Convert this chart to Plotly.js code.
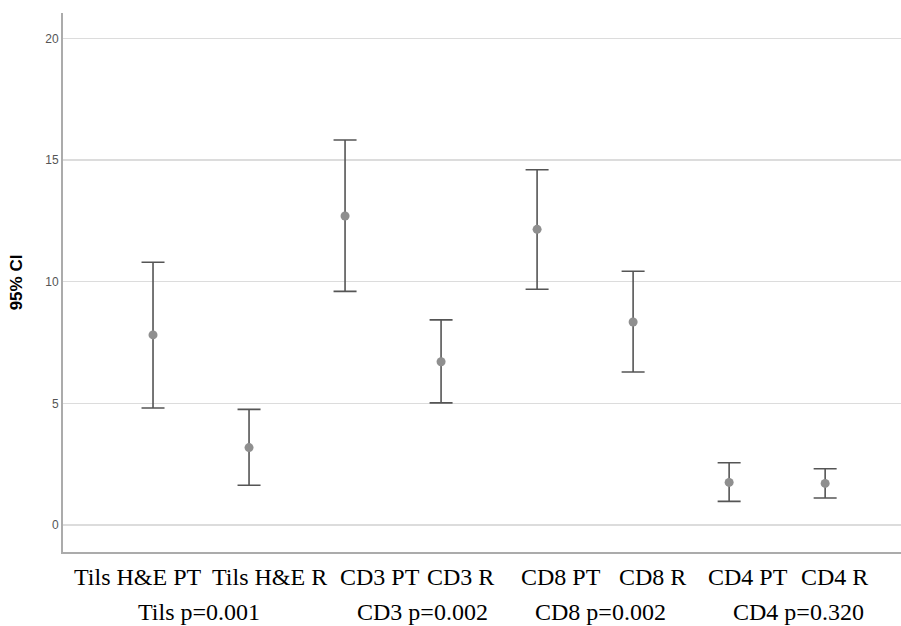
<!DOCTYPE html>
<html>
<head>
<meta charset="utf-8">
<script src="https://cdn.plot.ly/plotly-3.0.1.min.js"></script>
<style>html,body{margin:0;padding:0;background:#fff;}#chart{width:901px;height:626px;}</style>
</head>
<body>
<div id="chart"></div>
<script>
var categories = ["Tils H&E PT", "Tils H&E R", "CD3 PT", "CD3 R", "CD8 PT", "CD8 R", "CD4 PT", "CD4 R"];
var means  = [7.81, 3.18, 12.70, 6.71, 12.15, 8.34, 1.75, 1.71];
var lower  = [4.81, 1.63, 9.60, 5.02, 9.69, 6.29, 0.97, 1.11];
var upper  = [10.80, 4.75, 15.82, 8.43, 14.60, 10.43, 2.56, 2.31];
var groupLabels = ["Tils p=0.001", "CD3 p=0.002", "CD8 p=0.002", "CD4 p=0.320"];
var yTicks = [0, 5, 10, 15, 20];

// label centre positions in pixels (layout only)
var catLabelPx = [138, 269, 380, 460, 561, 652, 748, 834];
var groupLabelPx = [199, 422, 600, 798];
var row1Py = 577, row2Py = 612;

var plotLeft = 63, plotWidth = 838, plotBottom = 552, plotHeight = 539;
function toPaperX(px) { return (px - plotLeft) / plotWidth; }
function toPaperY(py) { return (plotBottom - py) / plotHeight; }

var errPlus = upper.map(function (u, i) { return u - means[i]; });
var errMinus = lower.map(function (l, i) { return means[i] - l; });

var trace = {
  type: 'scatter',
  mode: 'markers',
  x: categories,
  y: means,
  marker: { color: '#8f8f8f', size: 9 },
  error_y: {
    type: 'data', symmetric: false,
    array: errPlus, arrayminus: errMinus,
    color: '#555555', thickness: 1.6, width: 11.5
  },
  hoverinfo: 'none'
};

var serif = { family: 'Liberation Serif, Times New Roman, serif', size: 24, color: '#000' };
var annotations = [];
categories.forEach(function (c, i) {
  annotations.push({
    text: c, xref: 'paper', yref: 'paper',
    x: toPaperX(catLabelPx[i]), y: toPaperY(row1Py),
    xanchor: 'center', yanchor: 'middle', showarrow: false, font: serif
  });
});
groupLabels.forEach(function (g, i) {
  annotations.push({
    text: g, xref: 'paper', yref: 'paper',
    x: toPaperX(groupLabelPx[i]), y: toPaperY(row2Py),
    xanchor: 'center', yanchor: 'middle', showarrow: false, font: serif
  });
});

var layout = {
  width: 901, height: 626,
  margin: { l: 63, r: 0, t: 13, b: 74, pad: 0 },
  paper_bgcolor: '#ffffff', plot_bgcolor: '#ffffff',
  showlegend: false,
  xaxis: {
    type: 'category',
    range: [-0.9375, 7.79],
    showticklabels: false, ticks: '',
    showgrid: false, zeroline: false,
    showline: true, linecolor: '#ababab', linewidth: 2
  },
  yaxis: {
    range: [-1.11, 21.04],
    tickvals: yTicks, ticktext: yTicks.map(String),
    ticks: '', ticklen: 0,
    tickfont: { family: 'Liberation Sans, Arial, sans-serif', size: 12, color: '#555555' },
    showgrid: true, gridcolor: '#dcdcdc', gridwidth: 1.5,
    zeroline: false,
    showline: true, linecolor: '#ababab', linewidth: 2,
    title: { text: '<b>95% CI</b>', standoff: 18,
      font: { family: 'Liberation Sans, Arial, sans-serif', size: 17, color: '#000' } }
  },
  annotations: annotations
};

Plotly.newPlot('chart', [trace], layout, { displayModeBar: false, staticPlot: true });
</script>
</body>
</html>
